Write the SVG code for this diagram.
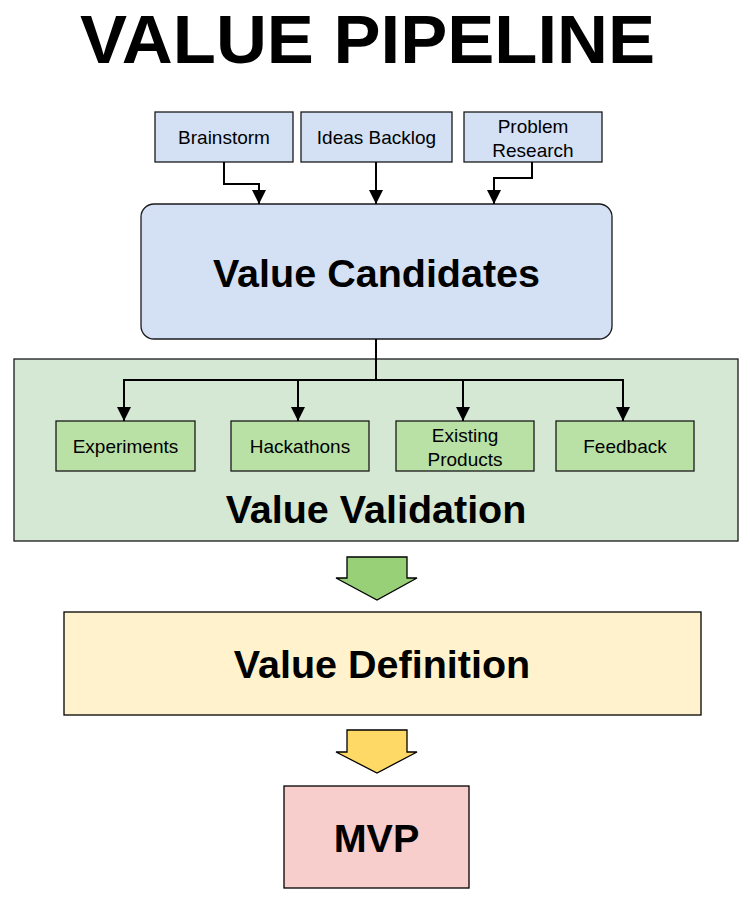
<svg xmlns="http://www.w3.org/2000/svg" width="750" height="898" viewBox="0 0 750 898">
<style>
text{font-family:"Liberation Sans",Arial,sans-serif;fill:#000;text-anchor:middle}
.t{font-size:69px;font-weight:bold}
.big{font-size:39.5px;font-weight:bold}
.sm{font-size:19px}
.blue{fill:#d4e1f5;stroke:#1a1a1a;stroke-width:1.3}
.green{fill:#b9e0a5;stroke:#1a1a1a;stroke-width:1.3}
.cont{fill:#d5e8d4;stroke:#1a1a1a;stroke-width:1.3}
.conn{fill:none;stroke:#000;stroke-width:2}
.blk{stroke:#000;stroke-width:1.3}
</style>
<defs>
<marker id="ah" viewBox="0 0 10 10" refX="10" refY="5" markerWidth="14" markerHeight="14" markerUnits="userSpaceOnUse" orient="auto">
<path d="M0,0 L10,5 L0,10 z" fill="#000"/>
</marker>
</defs>
<rect width="750" height="898" fill="#fff"/>
<text id="title" class="t" x="367.5" y="62.5" textLength="575" lengthAdjust="spacingAndGlyphs">VALUE PIPELINE</text>

<g id="brainstorm"><rect class="blue" x="155" y="112" width="138" height="50"/><text class="sm" x="224" y="144">Brainstorm</text></g>
<g id="ideas-backlog"><rect class="blue" x="301" y="112" width="151" height="50"/><text class="sm" x="376.5" y="144">Ideas Backlog</text></g>
<g id="problem-research"><rect class="blue" x="464" y="112" width="138" height="50"/><text class="sm" x="533" y="133">Problem</text><text class="sm" x="533" y="157">Research</text></g>

<g id="value-candidates"><rect class="blue" x="141" y="204" width="471" height="135" rx="13"/><text class="big" x="376.5" y="287">Value Candidates</text></g>

<g id="value-validation"><rect class="cont" x="14" y="359" width="724" height="182"/><text class="big" x="376" y="523">Value Validation</text></g>

<g id="experiments"><rect class="green" x="56" y="421" width="139" height="50"/><text class="sm" x="125.5" y="453">Experiments</text></g>
<g id="hackathons"><rect class="green" x="231" y="421" width="138" height="50"/><text class="sm" x="300" y="453">Hackathons</text></g>
<g id="existing-products"><rect class="green" x="396" y="421" width="138" height="50"/><text class="sm" x="465" y="442">Existing</text><text class="sm" x="465" y="466">Products</text></g>
<g id="feedback"><rect class="green" x="556" y="421" width="138" height="50"/><text class="sm" x="625" y="453">Feedback</text></g>

<g id="value-definition"><rect x="64" y="612" width="637" height="103" fill="#fff2cc" class="blk"/><text class="big" x="382" y="678">Value Definition</text></g>

<g id="mvp"><rect x="284" y="786" width="185" height="102" fill="#f8cecc" class="blk"/><text class="big" x="376.5" y="852">MVP</text></g>

<g id="connectors">
<path class="conn" d="M224,162 V184 H259 V204" marker-end="url(#ah)"/>
<path class="conn" d="M376,162 V204" marker-end="url(#ah)"/>
<path class="conn" d="M532,162 V178 H494 V204" marker-end="url(#ah)"/>
<path class="conn" d="M376,339 V380 H124 V421" marker-end="url(#ah)"/>
<path class="conn" d="M376,380 H298 V421" marker-end="url(#ah)"/>
<path class="conn" d="M376,380 H463 V421" marker-end="url(#ah)"/>
<path class="conn" d="M376,380 H623 V421" marker-end="url(#ah)"/>
<polygon points="347,557 407,557 407,578 417,578 377,600 336,578 347,578" fill="#97d077" class="blk"/>
<polygon points="347,730 407,730 407,752 417,752 377,773 336,752 347,752" fill="#ffd966" class="blk"/>
</g>
</svg>
